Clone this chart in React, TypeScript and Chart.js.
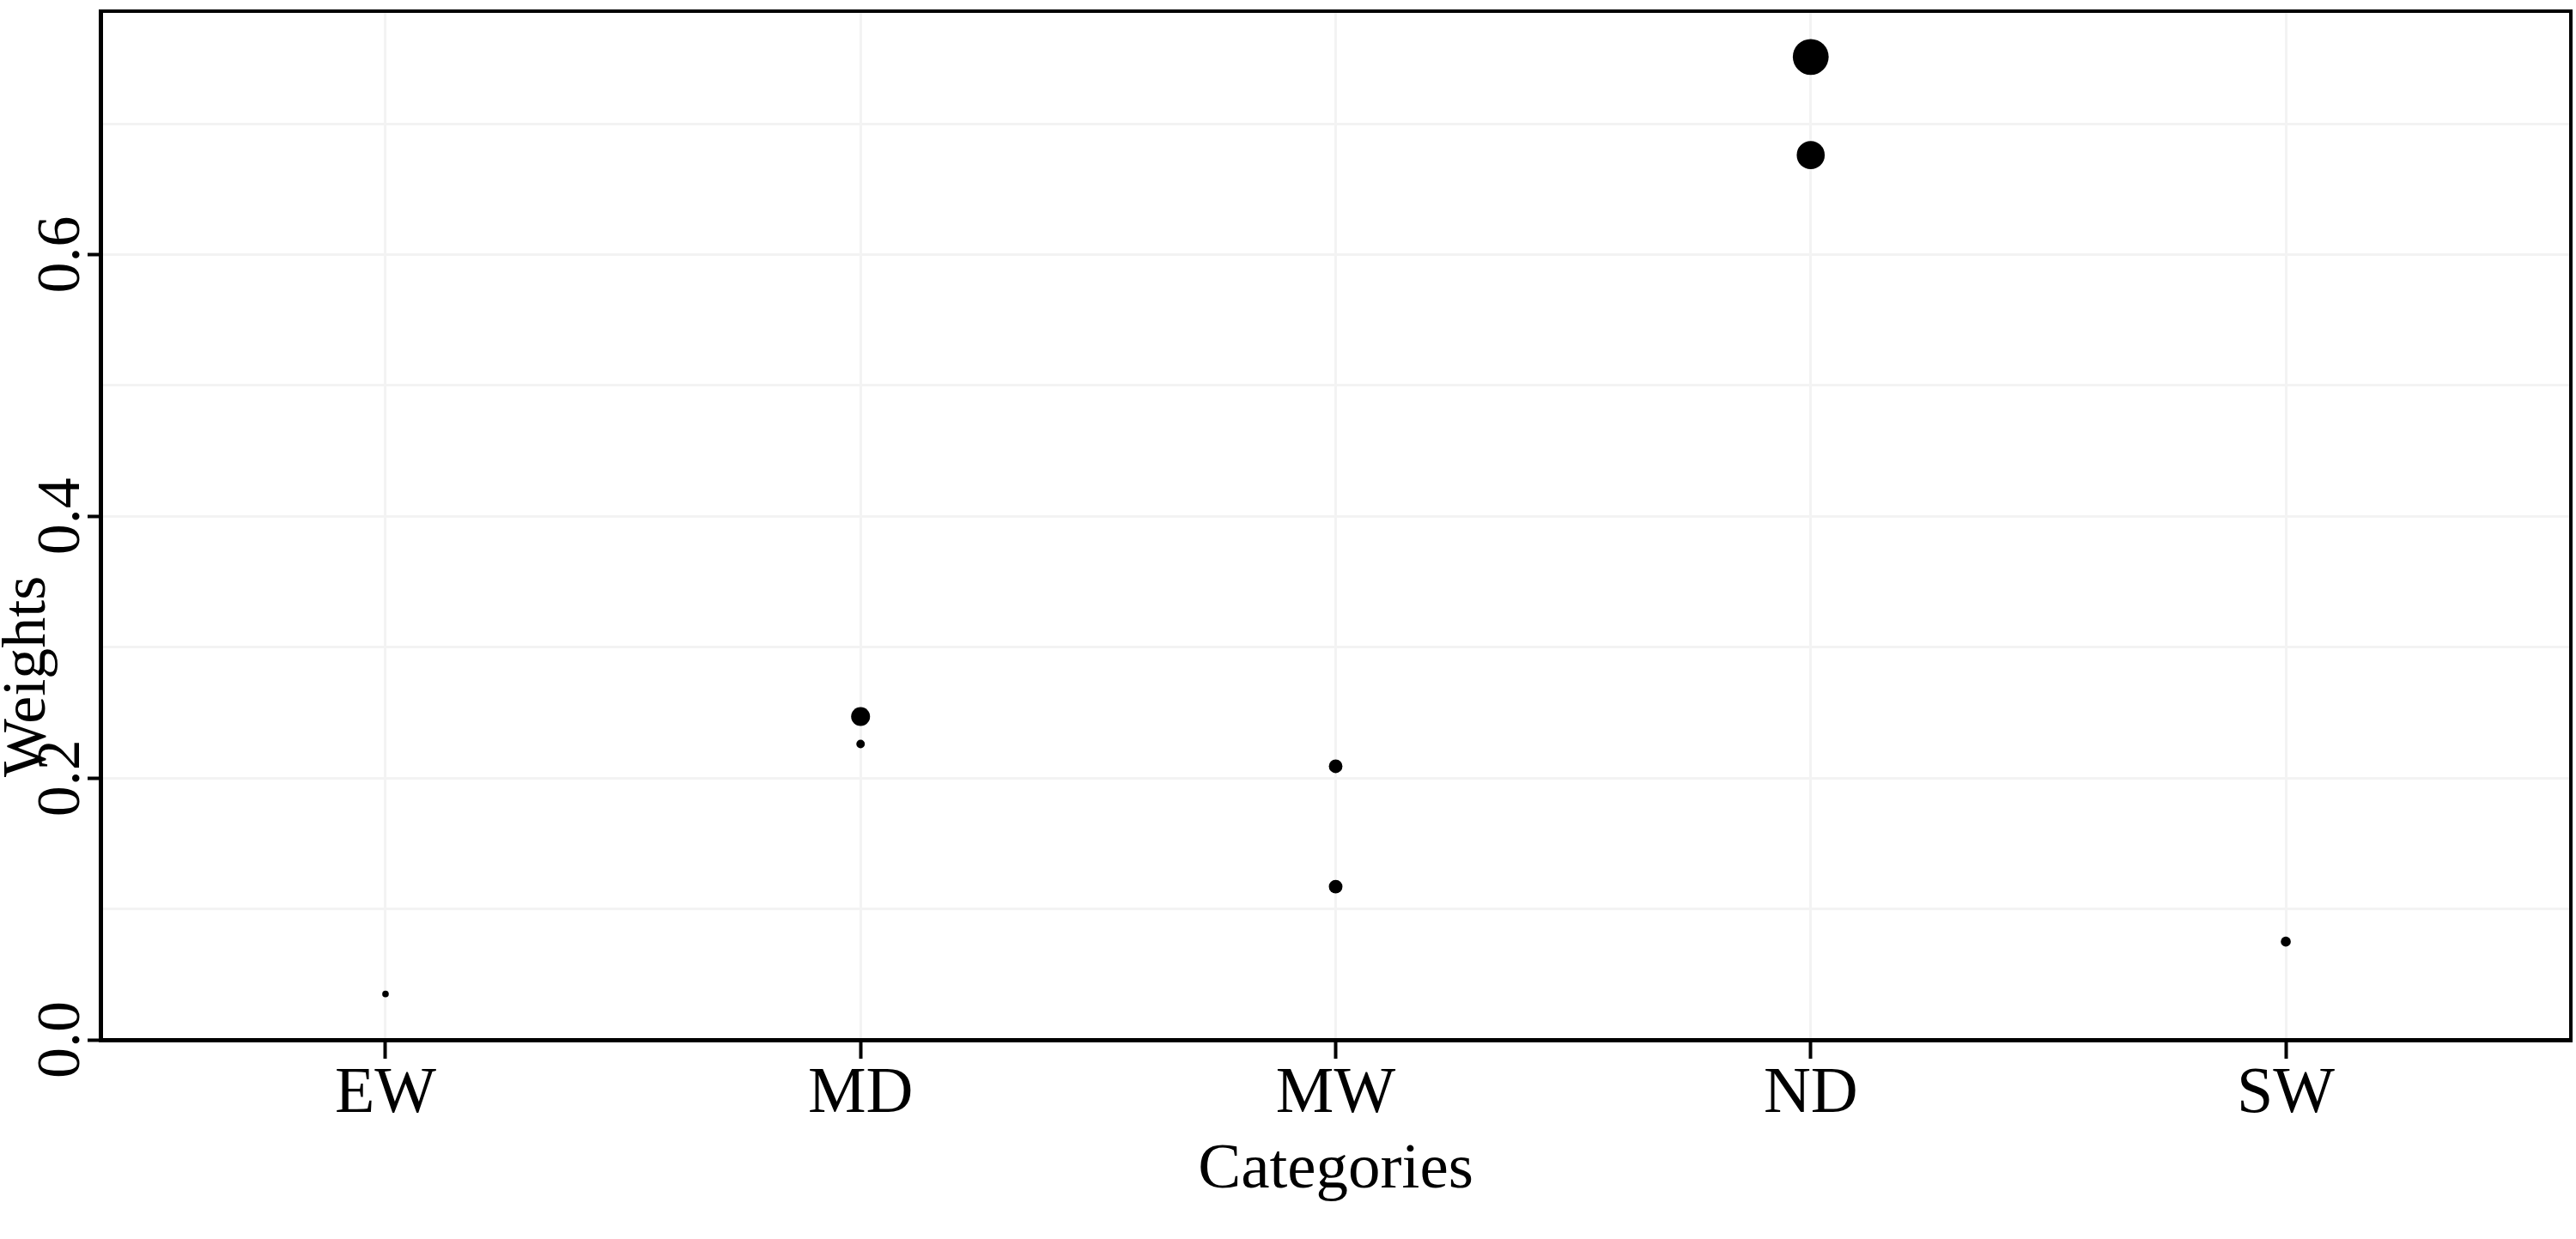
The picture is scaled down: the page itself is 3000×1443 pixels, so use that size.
import { useEffect, useRef } from "react";
import { Chart, registerables } from "chart.js";

Chart.register(...registerables);

// categories on the x axis
const categories = ["EW", "MD", "MW", "ND", "SW"];

// one entry per point
const pointCategory = ["EW", "MD", "MD", "MW", "MW", "ND", "ND", "SW"];
const weights = [0.035, 0.247, 0.226, 0.209, 0.117, 0.751, 0.676, 0.075];
const counts = [3, 25, 5, 13, 13, 90, 55, 7];

// y axis labels every 0.2, grid every 0.1
const yTickStep = 0.1;
const yMajorStep = 0.2;

const serif = "'Liberation Serif', 'Times New Roman', serif";

const isMajor = (v: number) =>
  Math.abs(v / yMajorStep - Math.round(v / yMajorStep)) < 1e-6;

const sizeOf = (n: number) => 2.2 * Math.sqrt(n);

// top and right edges of the panel box
const framePlugin = {
  id: "frame",
  afterDraw(chart: Chart) {
    const { ctx, chartArea } = chart;
    ctx.save();
    ctx.strokeStyle = "#000";
    ctx.lineWidth = 4;
    ctx.beginPath();
    ctx.moveTo(chartArea.left, chartArea.top);
    ctx.lineTo(chartArea.right, chartArea.top);
    ctx.lineTo(chartArea.right, chartArea.bottom);
    ctx.stroke();
    ctx.restore();
  },
};

// no extra room for overhanging tick labels
const noOverhang = (s: any) => {
  s.paddingTop = 0;
  s.paddingBottom = 0;
  s.paddingLeft = 0;
  s.paddingRight = 0;
};

const App = () => {
  const chartRef = useRef<HTMLCanvasElement>(null);
  const chartInstance = useRef<Chart | null>(null);

  useEffect(() => {
    document.body.style.margin = "0";
    if (!chartRef.current) return;
    if (chartInstance.current) chartInstance.current.destroy();

    const points = weights.map((w, i) => ({
      x: categories.indexOf(pointCategory[i]),
      y: w,
    }));

    chartInstance.current = new Chart(chartRef.current, {
      type: "scatter",
      data: {
        datasets: [
          {
            label: "Weights",
            data: points,
            backgroundColor: "#000",
            borderWidth: 0,
            pointRadius: (ctx: any) => sizeOf(counts[ctx.dataIndex]),
          },
        ],
      },
      options: {
        animation: false,
        responsive: false,
        devicePixelRatio: 1,
        layout: {
          autoPadding: false,
          padding: { top: 13, right: 6, left: 0, bottom: 0 },
        },
        plugins: {
          legend: { display: false },
          tooltip: { enabled: false },
        },
        scales: {
          x: {
            type: "linear",
            min: -0.6,
            max: categories.length - 0.4,
            afterFit: (s: any) => {
              s.height = 232;
              noOverhang(s);
            },
            ticks: {
              stepSize: 1,
              includeBounds: false,
              autoSkip: false,
              maxRotation: 0,
              padding: -4,
              color: "#000",
              font: { family: serif, size: 76 },
              callback: (v: any) => categories[v] ?? "",
            },
            grid: {
              color: "#f3f3f3",
              lineWidth: 3,
              tickColor: "#000",
              tickLength: 22,
              tickWidth: 4,
            },
            border: { color: "#000", width: 5 },
            title: {
              display: true,
              text: "Categories",
              color: "#000",
              font: { family: serif, size: 75 },
              padding: { top: 0, bottom: 35 },
            },
          },
          y: {
            min: 0,
            max: 0.786,
            afterFit: (s: any) => {
              s.width = 117;
              noOverhang(s);
            },
            ticks: {
              stepSize: yTickStep,
              includeBounds: false,
              minRotation: 90,
              maxRotation: 90,
              crossAlign: "center",
              padding: -16,
              color: "#000",
              font: { family: serif, size: 72 },
              callback: (v: any) => (isMajor(v) ? Number(v).toFixed(1) : ""),
            },
            grid: {
              color: "#f3f3f3",
              lineWidth: 3,
              tickLength: 15,
              tickWidth: 4,
              tickColor: (ctx: any) =>
                ctx.tick && isMajor(ctx.tick.value) ? "#000" : "rgba(0,0,0,0)",
            },
            border: { color: "#000", width: 5 },
            title: {
              display: true,
              text: "                 Weights",
              align: "start",
              color: "#000",
              font: { family: serif, size: 72 },
              padding: { top: -10, bottom: 0 },
            },
          },
        },
      },
      plugins: [framePlugin],
    });

    return () => {
      if (chartInstance.current) {
        chartInstance.current.destroy();
        chartInstance.current = null;
      }
    };
  }, []);

  return (
    <div style={{ width: 3000, height: 1443, background: "#fff" }}>
      <canvas
        ref={chartRef}
        width={3000}
        height={1443}
        style={{ display: "block" }}
      ></canvas>
    </div>
  );
};

export default App;
